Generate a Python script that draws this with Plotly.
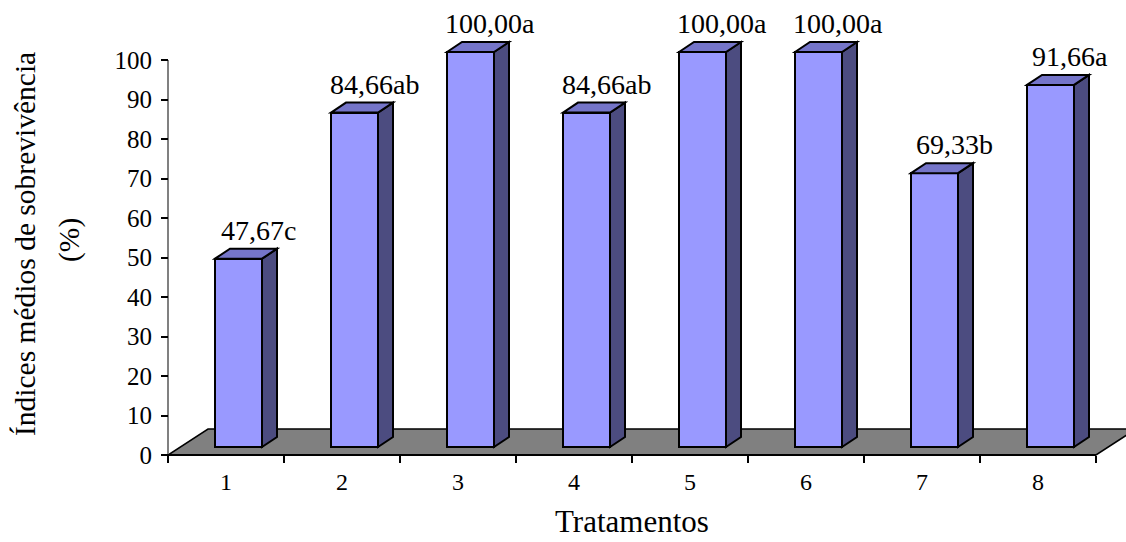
import plotly.graph_objects as go

# Survival index per treatment, with the significance letters
tratamentos = ["1", "2", "3", "4", "5", "6", "7", "8"]
sobrevivencia = [47.67, 84.66, 100.00, 84.66, 100.00, 100.00, 69.33, 91.66]
letras = ["c", "ab", "a", "ab", "a", "a", "b", "a"]
y_ticks = [0, 10, 20, 30, 40, 50, 60, 70, 80, 90, 100]

# Canvas and pixel scale of the axes
W, H = 1126, 542
X0PX, CAT_PX = 168, 116      # pixel of x = 0.5, pixels per category
Y0PX, UNIT_PX = 455, 3.95    # pixel of y = 0, pixels per percent

FONT = "Liberation Serif"
FRONT, SIDE, TOP = "#9999FF", "#4C4C80", "#7575C9"
FLOOR = "#808080"

# 3D depth vectors (converted from pixels to data units)
floor_dx, floor_dy = 40 / CAT_PX, 26 / UNIT_PX
bar_dx, bar_dy = 15 / CAT_PX, 10 / UNIT_PX
bar_w = 47 / CAT_PX
bar_shift = floor_dx / 2 - bar_dx / 2          # bars sit mid-depth on the floor
bar_base = floor_dy / 2 - bar_dy / 2
label_dx = 12 / CAT_PX                         # labels lean toward the depth side

n = len(tratamentos)
xs = [i + 1 for i in range(n)]
bar_x = [x + bar_shift for x in xs]

fig = go.Figure()
fig.add_trace(go.Bar(
    x=bar_x, y=sobrevivencia, base=[bar_base] * n, width=bar_w,
    marker=dict(color=FRONT, line=dict(color="black", width=2)),
    hoverinfo="skip", showlegend=False,
))

shapes = []
# floor of the 3D plot
x_lo, x_hi = 0.5, n + 0.5
shapes.append(dict(
    type="path", xref="x", yref="y", layer="below",
    path=(f"M{x_lo},0 L{x_hi},0 L{x_hi + floor_dx},{floor_dy} "
          f"L{x_lo + floor_dx},{floor_dy} Z"),
    fillcolor=FLOOR, line=dict(color="black", width=1.5),
))
# value axis line
shapes.append(dict(type="line", xref="x", yref="y", x0=x_lo, x1=x_lo,
                   y0=0, y1=max(y_ticks), layer="below",
                   line=dict(color="#808080", width=2)))
# category axis line
shapes.append(dict(type="line", xref="x", yref="y", x0=x_lo, x1=x_hi,
                   y0=0, y1=0, layer="below",
                   line=dict(color="black", width=2)))

annotations = []
for xc, v, let in zip(bar_x, sobrevivencia, letras):
    xl, xr = xc - bar_w / 2, xc + bar_w / 2
    top = bar_base + v
    # right side face
    shapes.append(dict(
        type="path", xref="x", yref="y", layer="above",
        path=(f"M{xr},{bar_base} L{xr + bar_dx},{bar_base + bar_dy} "
              f"L{xr + bar_dx},{top + bar_dy} L{xr},{top} Z"),
        fillcolor=SIDE, line=dict(color="black", width=2),
    ))
    # top face
    shapes.append(dict(
        type="path", xref="x", yref="y", layer="above",
        path=(f"M{xl},{top} L{xl + bar_dx},{top + bar_dy} "
              f"L{xr + bar_dx},{top + bar_dy} L{xr},{top} Z"),
        fillcolor=TOP, line=dict(color="black", width=2),
    ))
    label = f"{v:.2f}".replace(".", ",") + let
    annotations.append(dict(
        x=xc + bar_dx / 2 + label_dx, y=top + bar_dy, xref="x", yref="y",
        text=label, showarrow=False, xanchor="center", yanchor="bottom",
        yshift=1, font=dict(family=FONT, size=28, color="black"),
    ))


def px_x(p):
    return p / W


def px_y(p):
    return 1 - p / H


# axis titles
annotations.append(dict(
    x=px_x(25), y=px_y(244), xref="paper", yref="paper",
    text="Índices médios de sobrevivência", textangle=-90, showarrow=False,
    xanchor="center", yanchor="middle",
    font=dict(family=FONT, size=29.5, color="black"),
))
annotations.append(dict(
    x=px_x(69), y=px_y(240), xref="paper", yref="paper",
    text="(%)", textangle=-90, showarrow=False,
    xanchor="center", yanchor="middle",
    font=dict(family=FONT, size=29.5, color="black"),
))
annotations.append(dict(
    x=px_x(632), y=px_y(521), xref="paper", yref="paper",
    text="Tratamentos", showarrow=False,
    xanchor="center", yanchor="middle",
    font=dict(family=FONT, size=31, color="black"),
))

fig.update_layout(
    width=W, height=H,
    margin=dict(l=0, r=0, t=0, b=0, pad=0),
    paper_bgcolor="white", plot_bgcolor="white",
    shapes=shapes, annotations=annotations,
    bargap=0,
    xaxis=dict(
        range=[0.5 - X0PX / CAT_PX, 0.5 + (W - X0PX) / CAT_PX],
        anchor="free", position=(H - Y0PX) / H,
        tickmode="array", tickvals=xs, ticktext=tratamentos,
        ticks="", showline=False, showgrid=False, zeroline=False,
        ticklabelstandoff=10,
        tickfont=dict(family=FONT, size=24, color="black"),
        minor=dict(tickmode="array", tickvals=[k + 0.5 for k in range(n + 1)],
                   ticks="outside", ticklen=7, tickwidth=1.5, tickcolor="black",
                   showgrid=False),
        automargin=False, fixedrange=True,
    ),
    yaxis=dict(
        range=[-(H - Y0PX) / UNIT_PX, Y0PX / UNIT_PX],
        anchor="free", position=X0PX / W,
        tickmode="array", tickvals=y_ticks,
        ticks="outside", ticklen=7, tickwidth=1.5, tickcolor="black",
        showline=False, showgrid=False, zeroline=False,
        ticklabelstandoff=4,
        tickfont=dict(family=FONT, size=25, color="black"),
        automargin=False, fixedrange=True,
    ),
)

fig.write_html("out.html")
